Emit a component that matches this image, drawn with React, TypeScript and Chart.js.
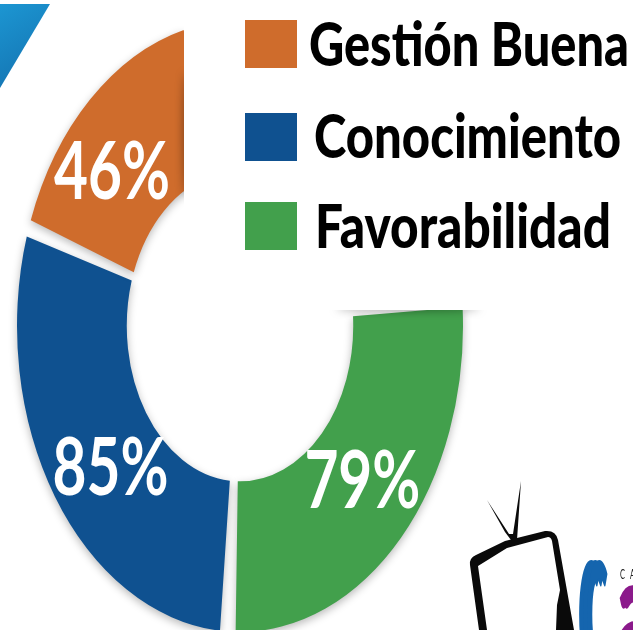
import React, { useEffect, useRef } from "react";
import { Chart, registerables } from "chart.js";

Chart.register(...registerables);

const categories = ["Favorabilidad", "Conocimiento", "Gestión Buena"];
const values = [79, 85, 46];
const colors = ["#42A04C", "#0F5190", "#CF6C2C"];
const labelOffsets = [[1, -7], [10, 11], [-15, 15]];
const legendRows = [
  { idx: 2, swatchY: 20, swatchH: 48, textX: 309, width: 320, base: 66, cap: 44 },
  { idx: 1, swatchY: 113, swatchH: 48, textX: 314, width: 307, base: 158, cap: 44 },
  { idx: 0, swatchY: 202, swatchH: 48, textX: 315, width: 296, base: 248, cap: 44 },
];
const STRETCH = 1.372;
const CENTER_Y = 326;

function fitText(
  ctx: CanvasRenderingContext2D,
  text: string,
  x: number,
  base: number,
  width: number,
  cap: number,
  color: string,
  weight = "bold",
  family = "Lato"
) {
  ctx.save();
  ctx.font = `${weight} 40px ${family}`;
  ctx.textAlign = "left";
  ctx.textBaseline = "alphabetic";
  ctx.fillStyle = color;
  const m = ctx.measureText(text);
  ctx.translate(x, base);
  ctx.scale(width / m.width, cap / 28.7);
  ctx.fillText(text, 0, 0);
  ctx.restore();
}

function poly(ctx: CanvasRenderingContext2D, pts: number[][], color: string | CanvasGradient) {
  ctx.beginPath();
  pts.forEach(([x, y], i) => (i ? ctx.lineTo(x, y) : ctx.moveTo(x, y)));
  ctx.closePath();
  ctx.fillStyle = color;
  ctx.fill();
}

const stretchPlugin = {
  id: "stretch",
  beforeDraw(chart: any) {
    const ctx = chart.ctx as CanvasRenderingContext2D;
    ctx.save();
    ctx.fillStyle = "#fff";
    ctx.fillRect(0, 0, chart.width, chart.height);
    const g = ctx.createLinearGradient(0, 4, 40, 70);
    g.addColorStop(0, "#1C96D2");
    g.addColorStop(1, "#1577B5");
    poly(ctx, [[0, 4], [50, 4], [0, 88]], g);
    ctx.restore();
  },
  beforeDatasetsDraw(chart: any) {
    const ctx = chart.ctx as CanvasRenderingContext2D;
    const cy = chart.getDatasetMeta(0).data[0].y;
    ctx.save();
    ctx.translate(0, CENTER_Y);
    ctx.scale(1, STRETCH);
    ctx.translate(0, -cy);
    ctx.shadowColor = "rgba(0,0,0,0.28)";
    ctx.shadowBlur = 9;
    ctx.shadowOffsetY = 3;
  },
  afterDatasetsDraw(chart: any) {
    const ctx = chart.ctx as CanvasRenderingContext2D;
    ctx.restore();

    // white panel behind the legend, with its soft edge shadows
    ctx.save();
    ctx.shadowColor = "rgba(0,0,0,0.65)";
    ctx.shadowBlur = 8;
    ctx.fillStyle = "#000";
    ctx.beginPath();
    ctx.ellipse(186, 135, 2, 62, 0, 0, Math.PI * 2);
    ctx.fill();
    ctx.beginPath();
    ctx.ellipse(408, 308, 72, 2, 0, 0, Math.PI * 2);
    ctx.fill();
    ctx.restore();
    ctx.fillStyle = "#fff";
    ctx.fillRect(184, 0, chart.width - 184, 310);

    // legend
    legendRows.forEach((r) => {
      ctx.fillStyle = colors[r.idx];
      ctx.fillRect(245, r.swatchY, 52, r.swatchH);
      fitText(ctx, categories[r.idx], r.textX, r.base, r.width, r.cap, "#000", "900");
    });

    // value labels
    const meta = chart.getDatasetMeta(0);
    const cy = meta.data[0].y;
    meta.data.forEach((arc: any, i: number) => {
      const p = arc.getCenterPoint();
      const x = p.x + labelOffsets[i][0];
      const y = CENTER_Y + (p.y - cy) * STRETCH + labelOffsets[i][1];
      fitText(ctx, `${values[i]}%`, x - 58, y + 29, 116, 58, "#fff", "bold");
    });

    // logo
    ctx.save();
    poly(ctx, [[487, 500], [505, 532], [511, 540], [517, 540], [521, 481], [513, 534], [509, 534]], "#0a0a0a");
    ctx.beginPath();
    ctx.moveTo(470, 565);
    ctx.quadraticCurveTo(469, 558, 476, 555);
    ctx.lineTo(505, 541);
    ctx.lineTo(545, 531);
    ctx.quadraticCurveTo(556, 530, 558, 540);
    ctx.lineTo(574, 630);
    ctx.lineTo(479, 630);
    ctx.closePath();
    ctx.fillStyle = "#0a0a0a";
    ctx.fill();
    ctx.beginPath();
    ctx.moveTo(478, 566);
    ctx.lineTo(507, 548);
    ctx.lineTo(548, 537);
    ctx.quadraticCurveTo(551, 537, 552, 541);
    ctx.lineTo(560, 590);
    ctx.lineTo(557, 605);
    ctx.lineTo(556, 630);
    ctx.lineTo(487, 630);
    ctx.closePath();
    ctx.fillStyle = "#fff";
    ctx.fill();
    ctx.restore();
    [578, 582, 586].forEach((x) => fitText(ctx, "C", x, 668, 22, 106, "#1565AE", "900"));
    [617, 620].forEach((x) => fitText(ctx, "a", x, 668, 30, 112, "#8B1A8B", "900"));
    fitText(ctx, "C", 620, 579, 5, 9, "#222", "normal");
    fitText(ctx, "A", 630, 579, 5, 9, "#222", "normal");
  },
};

export default function App() {
  const ref = useRef<HTMLCanvasElement>(null);
  useEffect(() => {
    document.body.style.margin = "0";
    const chart = new Chart(ref.current!, {
      type: "doughnut",
      data: {
        labels: categories,
        datasets: [
          {
            data: values,
            backgroundColor: colors,
            borderWidth: 0,
            spacing: 13,
            clip: false,
          } as any,
        ],
      },
      options: {
        responsive: false,
        animation: false,
        events: [],
        rotation: 84.5,
        circumference: 262,
        cutout: "49.3%",
        layout: { padding: { left: 17, right: 170, top: 92, bottom: 92 } },
        plugins: { legend: { display: false }, tooltip: { enabled: false } },
      },
      plugins: [stretchPlugin],
    });
    return () => chart.destroy();
  }, []);
  return <canvas ref={ref} width={633} height={630} style={{ display: "block" }} />;
}
